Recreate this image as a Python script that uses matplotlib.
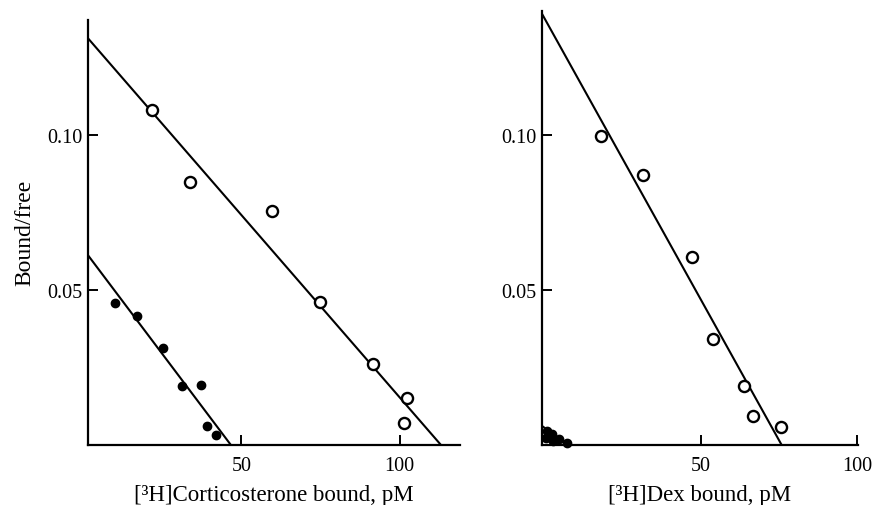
import matplotlib
matplotlib.use("Agg")
import matplotlib.pyplot as plt
import numpy as np

plt.rcParams['font.family'] = ['Liberation Serif', 'DejaVu Serif']

# --- corticosterone panel ---
cort_open_x = [21.7, 33.8, 59.7, 74.8, 91.5, 102.3, 101.2]
cort_open_y = [0.108, 0.0847, 0.0755, 0.0459, 0.0262, 0.0152, 0.0070]
cort_fill_x = [10.1, 17.0, 25.4, 31.2, 37.2, 39.1, 42.1]
cort_fill_y = [0.0458, 0.0414, 0.0313, 0.0191, 0.0193, 0.0062, 0.0032]
# fitted lines: (y intercept, x intercept)
cort_open_fit = (0.1329, 113.0)
cort_fill_fit = (0.0633, 46.7)

# --- dexamethasone panel ---
dex_open_x = [18.1, 31.4, 47.0, 53.9, 63.7, 66.5, 75.6]
dex_open_y = [0.0998, 0.0871, 0.0605, 0.0342, 0.0191, 0.0095, 0.0057]
dex_fill_x = [0.3, 0.8, 2.2, 2.7, 4.7, 7.0]
dex_fill_y = [0.0022, 0.0046, 0.0035, 0.0014, 0.0019, 0.0005]
dex_open_fit = (0.1375, 75.8)
dex_fill_fit = (0.0055, 7.5)

xticks = [50, 100]
yticks = [0.05, 0.10]
ytick_labels = ['0.05', '0.10']


def fit_line(ax, fit, x0):
    b, xint = fit
    xs = np.array([x0, xint])
    ax.plot(xs, b - b / xint * xs, color='black', lw=1.5, solid_capstyle='butt')


def style(ax, xlim, ylim, xlabel):
    ax.set_xlim(*xlim)
    ax.set_ylim(*ylim)
    for s in ['top', 'right']:
        ax.spines[s].set_visible(False)
    for s in ['left', 'bottom']:
        ax.spines[s].set_linewidth(1.6)
    ax.set_xticks(xticks)
    ax.set_yticks(yticks)
    ax.set_yticklabels(ytick_labels)
    ax.tick_params(direction='in', length=7, width=1.4, labelsize=14.5)
    ax.tick_params(axis='x', pad=8)
    ax.tick_params(axis='y', pad=4)
    ax.set_xlabel(xlabel, fontsize=16.5, labelpad=6.5)


fig = plt.figure(figsize=(8.74, 5.06), dpi=100)

ax1 = fig.add_axes([0.1003, 0.1186, 0.426, 0.8405])
style(ax1, (1.5, 119), (0, 0.137), '[³H]Corticosterone bound, pM')
fit_line(ax1, cort_open_fit, 1.5)
fit_line(ax1, cort_fill_fit, 1.5)
ax1.plot(cort_open_x, cort_open_y, 'o', ms=8, mfc='white', mec='black', mew=1.7, clip_on=False)
ax1.plot(cort_fill_x, cort_fill_y, 'o', ms=6, color='black', clip_on=False)
ax1.set_ylabel('Bound/free', fontsize=17, labelpad=8)

ax2 = fig.add_axes([0.6197, 0.1186, 0.3619, 0.8577])
style(ax2, (-1, 100.2), (0, 0.140), '[³H]Dex bound, pM')
fit_line(ax2, dex_open_fit, -1)
fit_line(ax2, dex_fill_fit, -1)
ax2.plot(dex_open_x, dex_open_y, 'o', ms=8, mfc='white', mec='black', mew=1.7, clip_on=False)
ax2.plot(dex_fill_x, dex_fill_y, 'o', ms=6, color='black', clip_on=False)

fig.savefig('out.png', dpi=100)
